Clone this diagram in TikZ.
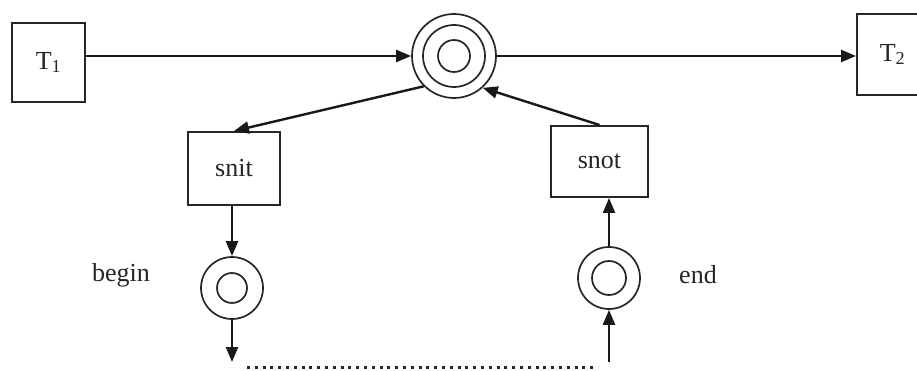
\documentclass[tikz,border=0pt]{standalone}
\usepackage{fontspec}
\setmainfont{Liberation Serif}
\usetikzlibrary{arrows.meta}
\begin{document}
\begin{tikzpicture}[
        x=1pt, y=-1pt,
        >={Triangle[length=15pt,width=12pt]},
        box/.style={
            rectangle,
            draw=black!85,
            line width=2pt,
            inner sep=0pt,
            fill=white,
            text=black!85,
            font=\fontsize{26}{30}\selectfont
        },
        place/.style={
            circle,
            draw=black!85,
            line width=1.7pt,
            inner sep=0pt
        },
        arrow/.style={
            ->,
            line width=2.4pt,
            draw=black!90
        },
        lbl/.style={
            anchor=base,
            text=black!85,
            font=\fontsize{26}{30}\selectfont
        }
    ]

    \useasboundingbox[fill=white] (0,0) rectangle (917,371);

    \node[box, minimum width=73pt, minimum height=79pt] (t_one) at (48.5,62.5) {T\textsubscript{1}};
    \node[box, minimum width=71pt, minimum height=81pt] (t_two) at (892.5,54.5) {T\textsubscript{2}};
    \node[box, minimum width=92pt, minimum height=73pt] (s_nit) at (234,168.5) {snit};
    \node[box, minimum width=97pt, minimum height=71pt] (s_not) at (599.5,161.5) {snot};

    \node[place, minimum size=84pt] (p_ring) at (454,56) {};
    \draw[line width=1.7pt, draw=black!85] (p_ring.center) circle[radius=31pt] (p_ring.center) circle[radius=16pt];
    \node[place, minimum size=62pt] (p_begin) at (232,288) {};
    \draw[line width=1.7pt, draw=black!85] (p_begin.center) circle[radius=15pt];
    \node[place, minimum size=62pt] (p_end) at (609,278) {};
    \draw[line width=1.7pt, draw=black!85] (p_end.center) circle[radius=17pt];

    \node[lbl] (l_begin) at (121,281) {begin};
    \node[lbl] (l_end) at (698,283) {end};

    \coordinate (b_low) at (232,362);
    \coordinate (e_low) at (609,362);
    \coordinate (d_start) at (247,367);
    \coordinate (d_end) at (598,367);

    \draw[arrow] (t_one.east |- p_ring.west) -- (p_ring.west);
    \draw[arrow] (p_ring.east) -- (p_ring.east -| t_two.west);
    \draw[arrow] (p_ring.225) -- (s_nit.north);
    \draw[arrow] (s_not.north) -- (p_ring.-48);
    \draw[arrow] (s_nit.south -| p_begin) -- (p_begin.north);
    \draw[arrow] (p_end.north) -- (p_end.north |- s_not.south);
    \draw[arrow] (p_begin.south) -- (b_low);
    \draw[arrow] (e_low) -- (p_end.south);
    \draw[line width=3pt, dash pattern=on 3pt off 4.8pt, draw=black!85] (d_start) -- (d_end);

\end{tikzpicture}
\end{document}
